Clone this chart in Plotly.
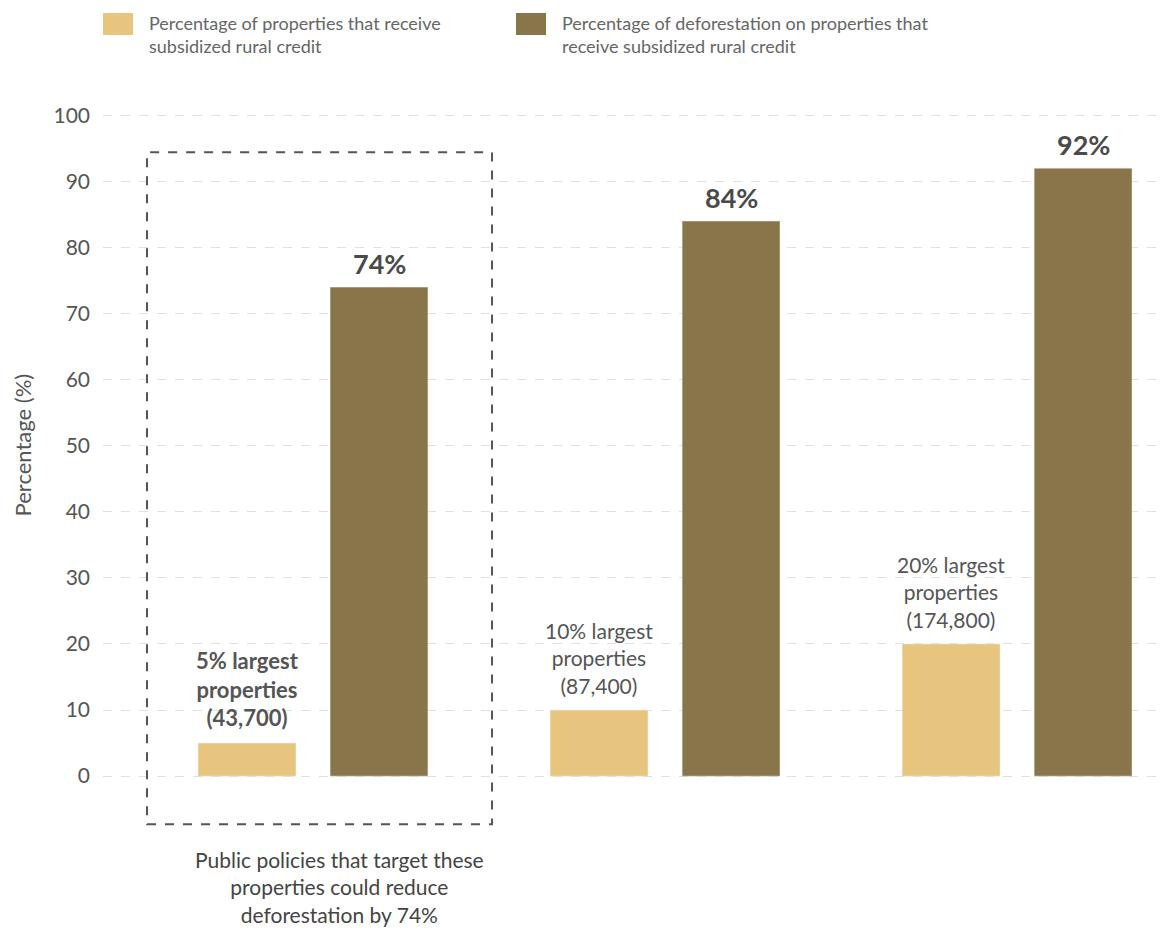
import plotly.graph_objects as go

groups = ["5% largest", "10% largest", "20% largest"]
share_properties = [5, 10, 20]
share_deforestation = [74, 84, 92]
property_labels = ["<b>5% largest<br>properties<br>(43,700)</b>",
                   "10% largest<br>properties<br>(87,400)",
                   "20% largest<br>properties<br>(174,800)"]
property_label_sizes = [22, 21, 21]
deforestation_labels = ["<b>74%</b>", "<b>84%</b>", "<b>92%</b>"]
y_ticks = [0, 10, 20, 30, 40, 50, 60, 70, 80, 90, 100]
legend_names = ["Percentage of properties that receive<br>subsidized rural credit",
                "Percentage of deforestation on properties that<br>receive subsidized rural credit"]
note_text = "Public policies that target these<br>properties could reduce<br>deforestation by 74%"

LIGHT = "#E8C57F"
DARK = "#8A7449"
TXT = "#555555"
FONT = "Lato"

BAR_W = 0.278          # bar width in category units
LIGHT_C = -0.1875      # bar centre offsets from category centre
DARK_C = 0.1875

fig = go.Figure()
fig.add_trace(go.Bar(
    x=groups, y=share_properties, name=legend_names[0], marker_color=LIGHT,
    width=BAR_W, offset=LIGHT_C - BAR_W / 2,
))
fig.add_trace(go.Bar(
    x=groups, y=share_deforestation, name=legend_names[1], marker_color=DARK,
    width=BAR_W, offset=DARK_C - BAR_W / 2,
))

fig.update_layout(
    width=1160, height=931,
    margin=dict(l=103, r=0, t=112, b=102),
    paper_bgcolor="white", plot_bgcolor="white",
    barmode="overlay",
    showlegend=False,
    font=dict(family=FONT, color=TXT),
    xaxis=dict(range=[-0.5966, 2.406], showticklabels=False, showgrid=False,
               zeroline=False, showline=False, ticks=""),
    yaxis=dict(range=[-8, 100.5], tickvals=y_ticks, showgrid=True,
               gridcolor="#e0e0e0", gridwidth=1, griddash="dash",
               zeroline=False, showline=False, ticks="",
               tickfont=dict(size=21, color=TXT, family=FONT),
               ticklabelstandoff=12),
)

# value labels
for i in range(len(groups)):
    fig.add_annotation(xref="x", yref="y", x=i + LIGHT_C, y=share_properties[i],
                       xanchor="center", yanchor="bottom", yshift=10,
                       text=property_labels[i], showarrow=False, align="center",
                       font=dict(size=property_label_sizes[i], color=TXT, family=FONT))
    fig.add_annotation(xref="x", yref="y", x=i + DARK_C, y=share_deforestation[i],
                       xanchor="center", yanchor="bottom", yshift=5,
                       text=deforestation_labels[i], showarrow=False,
                       font=dict(size=27, color="#4a4a4a", family=FONT))

# dashed highlight box around the first group
fig.add_shape(type="rect", xref="x", yref="y",
              x0=-0.4716, x1=0.5085, y0=-7.3, y1=94.4,
              line=dict(color="#555555", width=2, dash="dash"),
              fillcolor="rgba(0,0,0,0)", layer="above")

# manual legend
for i, (col, dx) in enumerate([(LIGHT, 0), (DARK, 413)]):
    fig.add_shape(type="rect", xref="paper", yref="paper",
                  xsizemode="pixel", ysizemode="pixel",
                  xanchor=0, yanchor=1,
                  x0=dx, x1=dx + 30, y0=99, y1=77,
                  fillcolor=col, line=dict(width=0))
    fig.add_annotation(xref="paper", yref="paper", x=0, y=1,
                       xanchor="left", yanchor="middle",
                       xshift=dx + 44, yshift=78,
                       text=legend_names[i], showarrow=False, align="left",
                       font=dict(size=18, color="#666666", family=FONT))

# y axis title
fig.add_annotation(xref="paper", yref="paper", x=0, y=0.535,
                   xanchor="center", yanchor="middle",
                   xshift=-81, textangle=-90, text="Percentage (%)",
                   showarrow=False, font=dict(size=22, color=TXT, family=FONT))

# note below box
fig.add_annotation(xref="paper", yref="paper", x=0.2242, y=0,
                   xanchor="center", yanchor="top", yshift=-16,
                   text=note_text, showarrow=False, align="center",
                   font=dict(size=21, color="#444444", family=FONT))

fig.write_html("out.html")
